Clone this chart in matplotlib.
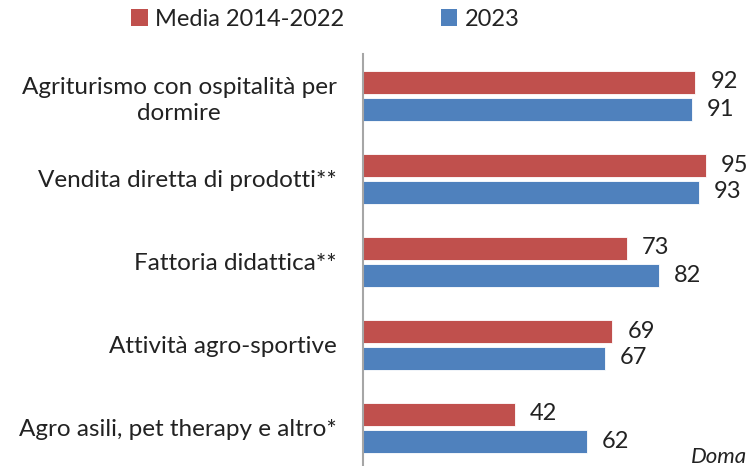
import matplotlib
matplotlib.use("Agg")
import matplotlib.pyplot as plt
from matplotlib.patches import Patch
import numpy as np

categories = [
    "Agriturismo con ospitalità per\ndormire",
    "Vendita diretta di prodotti**",
    "Fattoria didattica**",
    "Attività agro-sportive",
    "Agro asili, pet therapy e altro*",
]
media_2014_2022 = [92, 95, 73, 69, 42]
values_2023 = [91, 93, 82, 67, 62]
series_names = ["Media 2014-2022", "2023"]
colors = ["#C0504D", "#4F81BD"]

plt.rcParams['font.family'] = ['Lato', 'DejaVu Sans']
W, H = 748, 466
fig = plt.figure(figsize=(W / 100, H / 100), dpi=100)
ax = fig.add_axes([363 / W, 1 - 469 / H, 361 / W, 415 / H])

y = np.arange(len(categories))
bh = 23 / 83
off = 13.5 / 83
b1 = ax.barh(y - off, media_2014_2022, height=bh, color=colors[0], edgecolor="white", linewidth=0.6)
b2 = ax.barh(y + off, values_2023, height=bh, color=colors[1], edgecolor="white", linewidth=0.6)

for bars, vals in ((b1, media_2014_2022), (b2, values_2023)):
    for rect, v in zip(bars, vals):
        ax.annotate(str(v), (rect.get_width(), rect.get_y() + rect.get_height() / 2),
                    xytext=(11, 0), textcoords="offset points", ha="left", va="center",
                    fontsize=17, color="#222222")

ax.set_xlim(0, 100)
ax.set_ylim(len(categories) - 0.5, -0.5)
ax.set_yticks(y)
ax.set_yticklabels(categories, fontsize=17.5, color="#222222", multialignment="center",
                   linespacing=1.35)
ax.tick_params(axis="y", length=0, pad=19)
ax.set_xticks([])
for s in ("top", "right", "bottom"):
    ax.spines[s].set_visible(False)
ax.spines["left"].set_color("#A6A6A6")
ax.spines["left"].set_linewidth(1.5)

handles = [Patch(facecolor=c, edgecolor="none") for c in colors]
fig.legend(handles, series_names, loc="center left", bbox_to_anchor=(110 / W, 1 - 19 / H),
           ncol=2, frameon=False, fontsize=17, handlelength=0.7, handleheight=0.7,
           handletextpad=0.3, columnspacing=4.1, labelcolor="#222222")

fig.text(747 / W, 1 - 463 / H, "Doma", fontsize=16, style="italic", color="#222222",
         ha="right", va="baseline")

fig.savefig("out.png", dpi=100)
